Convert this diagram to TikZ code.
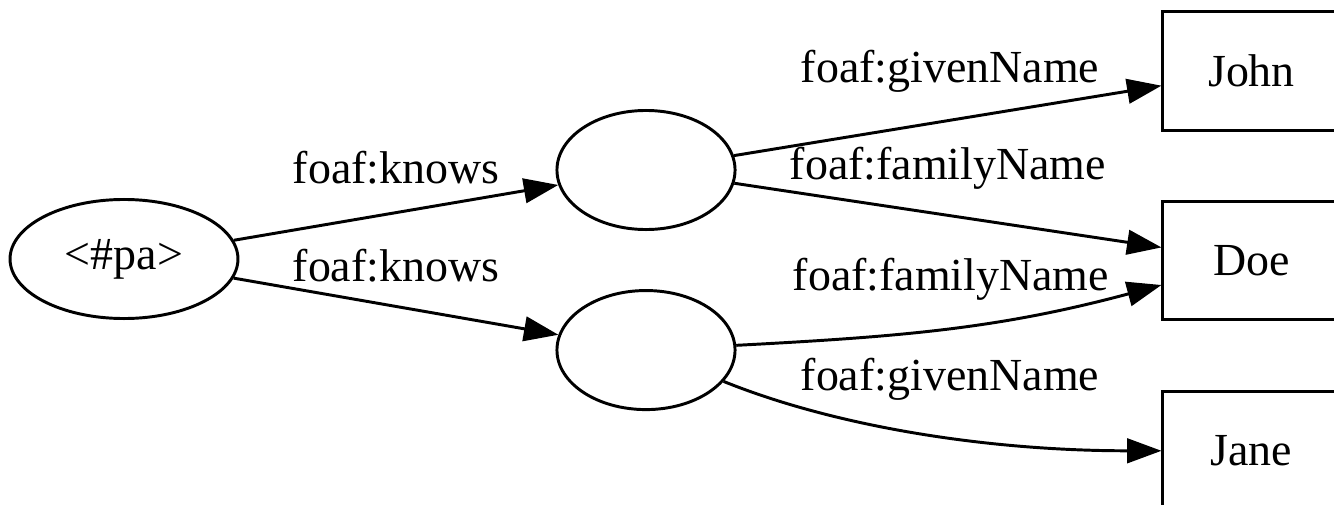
\documentclass[tikz,border=0pt]{standalone}
\usepackage{fontspec}
\setmainfont{Liberation Serif}
\usetikzlibrary{shapes.geometric,positioning,arrows.meta}

\begin{document}
\begin{tikzpicture}[->,>={Triangle[length=10.5pt,width=7.5pt]},x=0.3049pt,y=0.3049pt,
  line width=0.9pt,font=\fontsize{14}{16}\selectfont,
  blank node/.style={ellipse,draw,minimum width=54.3pt,minimum height=36.3pt,inner sep=0pt},
  lit node/.style={rectangle,draw,minimum width=54pt,minimum height=36pt,inner sep=0pt},
  lbl/.style={anchor=base,inner sep=0pt}]
   \useasboundingbox (0,0) rectangle (1334,-505);
   \node[blank node,minimum width=69.5pt] (pa) at (124,-259) {<\#pa>};
   \node[blank node] (b_1) at (646,-170) {};
   \node[blank node] (b_2) [below=17.7pt of b_1] {};
   \node[lit node] (john) at (1251.5,-71) {John};
   \node[lit node] (doe) [below=21pt of john] {Doe};
   \node[lit node] (jane) [below=21pt of doe] {Jane};
    \path[->]
    (pa) edge node[lbl,yshift=9pt] {foaf:knows} (b_1)
         edge node[lbl,yshift=7.7pt] {foaf:knows} (b_2)
    (b_1) edge node[lbl,xshift=0.7pt,yshift=11.5pt] {foaf:givenName} (john)
          edge node[lbl,yshift=11pt] {foaf:familyName} (doe)
    (b_2) edge [out=3,in=195] node[lbl,yshift=11.6pt] {foaf:familyName} (doe)
          edge [out=-22,in=180,out looseness=0.7] node[lbl,xshift=9.2pt,yshift=13pt] {foaf:givenName} (jane);
\end{tikzpicture}
\end{document}
